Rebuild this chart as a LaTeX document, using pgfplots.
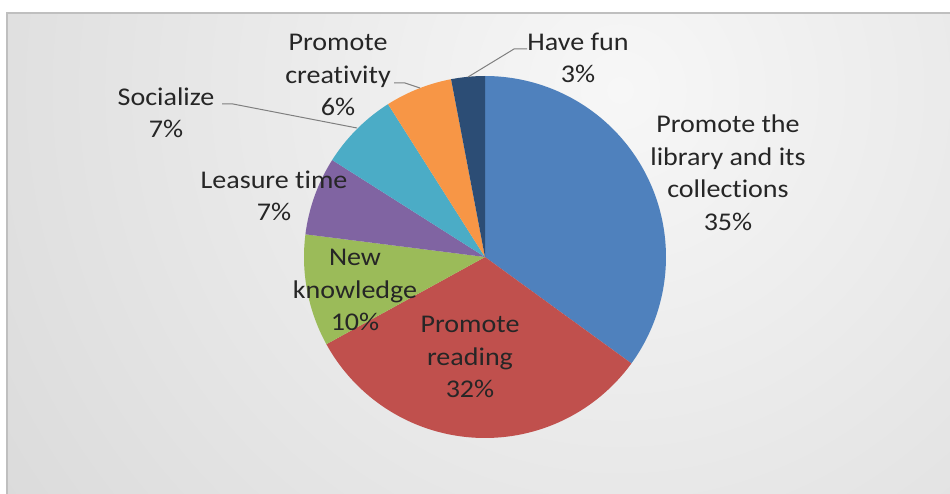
\documentclass[border=0pt]{standalone}
\usepackage{fontspec}
\setmainfont{Carlito}[Ligatures=NoCommon, FakeStretch=1.1]
\usepackage{pgfplots}
\pgfplotsset{compat=1.18}
\definecolor{cA}{HTML}{4F81BD}
\definecolor{cB}{HTML}{C0504D}
\definecolor{cC}{HTML}{9BBB59}
\definecolor{cD}{HTML}{8064A2}
\definecolor{cE}{HTML}{4BACC6}
\definecolor{cF}{HTML}{F79646}
\definecolor{cG}{HTML}{2C4D75}
\definecolor{bgin}{HTML}{F7F7F7}
\definecolor{bgout}{HTML}{C2C2C2}
\definecolor{bordc}{HTML}{BFBFBF}
\definecolor{txt}{HTML}{262626}
\definecolor{lead}{HTML}{7F7F7F}
\tikzset{lbl/.style={align=center, text=txt, font=\fontsize{25.5bp}{32.5bp}\selectfont, inner sep=0pt}}
% cumulative percentages: 35, 32, 10, 7, 7, 6, 3
\newcommand\slice[3]{%
  \addplot[fill=#3, draw=none, domain={90-3.6*(#2)}:{90-3.6*(#1)}, samples=90, variable=\t]
    ({485+181*cos(\t)},{257-181*sin(\t)}) -- (axis cs:485,257) -- cycle;
}
\begin{document}
\begin{tikzpicture}
\useasboundingbox (0,0) rectangle (950bp,494bp);
\fill[white] (0,0) rectangle (950bp,494bp);
\begin{scope}
\clip (7bp,0) rectangle (950bp,481bp);
\shade[inner color=bgin, outer color=bgout] (620bp,404bp) circle (1400bp);
\end{scope}
\draw[line width=1.5bp, color=bordc] (7bp,0) -- (7bp,481bp) -- (950bp,481bp);
\begin{axis}[at={(0,0)}, anchor=south west, scale only axis,
  width=950bp, height=494bp, xmin=0, xmax=950, ymin=0, ymax=494,
  y dir=reverse, hide axis, clip=false]
\slice{0}{35}{cA}
\slice{35}{67}{cB}
\slice{67}{77}{cC}
\slice{77}{84}{cD}
\slice{84}{91}{cE}
\slice{91}{97}{cF}
\slice{97}{100}{cG}
\draw[lead, line width=1bp] (axis cs:222,104) -- (axis cs:233,104) -- (axis cs:357,128);
\draw[lead, line width=1bp] (axis cs:394,83) -- (axis cs:405,83) -- (axis cs:420,88);
\draw[lead, line width=1bp] (axis cs:527,49) -- (axis cs:514,49) -- (axis cs:468,77);
\node[lbl] at (axis cs:728,173) {Promote the\\library and its\\collections\\35\%};
\node[lbl] at (axis cs:470,357) {Promote\\reading\\32\%};
\node[lbl] at (axis cs:355,290) {New\\knowledge\\10\%};
\node[lbl] at (axis cs:274,196) {Leasure time\\7\%};
\node[lbl] at (axis cs:166,113) {Socialize\\7\%};
\node[lbl] at (axis cs:338,75) {Promote\\creativity\\6\%};
\node[lbl] at (axis cs:578,58) {Have fun\\3\%};
\end{axis}
\end{tikzpicture}
\end{document}
